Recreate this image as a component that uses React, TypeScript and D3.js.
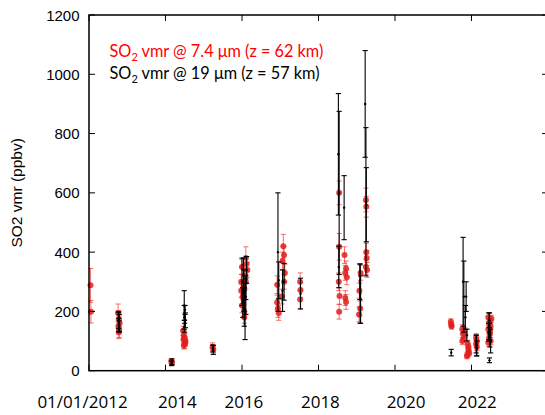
import React from "react";
import * as d3 from "d3";

// ---- data ----
const redDates = [
  2012.04, 2012.05,
  2012.76, 2012.78, 2012.8, 2012.77, 2012.79, 2012.78,
  2014.15, 2014.17,
  2014.46, 2014.48, 2014.5, 2014.52, 2014.5, 2014.48, 2014.52, 2014.47,
  2015.23, 2015.25,
  2015.98, 2016.0, 2016.04, 2016.1, 2016.12, 2016.08, 2016.02, 2016.0, 2016.06, 2016.1, 2016.14, 2016.04, 2015.98, 2016.06,
  2016.92, 2016.94, 2016.96, 2016.92, 2017.08, 2017.1, 2017.06, 2017.12, 2017.1, 2017.04,
  2017.52, 2017.52, 2017.53,
  2018.54, 2018.54, 2018.53, 2018.55, 2018.54,
  2018.68, 2018.72, 2018.7, 2018.74, 2018.7, 2018.72,
  2019.07, 2019.09, 2019.06, 2019.1,
  2019.24, 2019.25, 2019.25, 2019.26, 2019.24, 2019.27,
  2021.46, 2021.47, 2021.48,
  2021.76, 2021.78, 2021.8, 2021.76, 2021.82, 2021.9, 2021.92, 2021.9, 2021.94, 2021.92, 2021.88,
  2022.12, 2022.14, 2022.12, 2022.14,
  2022.44, 2022.48, 2022.46, 2022.5, 2022.44, 2022.48, 2022.46, 2022.5, 2022.44, 2022.48, 2022.52,
];
const redValues = [
  288, 199,
  195, 175, 160, 150, 140, 130,
  32, 28,
  135, 120, 110, 100, 90, 85, 95, 105,
  80, 72,
  300, 350, 280, 380, 360, 320, 250, 220, 200, 300, 340, 240, 270, 180,
  290, 210, 195, 230, 420, 390, 370, 330, 300, 250,
  300, 240, 272,
  600, 418, 300, 252, 199,
  390, 345, 330, 315, 245, 232,
  270, 210, 190, 330,
  576, 553, 400, 380, 350, 340,
  165, 155, 150,
  140, 125, 110, 100, 130, 90, 70, 55, 60, 80, 50,
  110, 100, 90, 80,
  180, 170, 160, 150, 140, 125, 110, 100, 95, 130, 175,
];
const redErrors = [
  57, 38,
  30, 28, 28, 25, 28, 22,
  8, 7,
  15, 15, 15, 14, 15, 12, 12, 12,
  14, 12,
  25, 25, 25, 38, 25, 25, 25, 25, 25, 25, 25, 20, 22, 20,
  30, 30, 25, 25, 40, 30, 30, 30, 25, 25,
  30, 30, 25,
  40, 45, 30, 28, 25,
  28, 25, 25, 25, 25, 25,
  25, 25, 25, 25,
  40, 35, 30, 25, 25, 25,
  10, 10, 10,
  15, 15, 15, 12, 15, 12, 12, 10, 10, 10, 10,
  15, 12, 12, 12,
  15, 15, 12, 15, 12, 12, 12, 12, 12, 12, 12,
];

const blackDates = [
  2012.78, 2012.79, 2012.77, 2012.78, 2012.79,
  2014.16, 2014.17,
  2014.49, 2014.5, 2014.52, 2014.5, 2014.51, 2014.49,
  2015.24, 2015.25,
  2016.0, 2016.05, 2016.1, 2016.02, 2016.08, 2016.04, 2016.1, 2016.06, 2016.12,
  2016.94, 2016.96, 2017.1, 2017.06,
  2017.53,
  2018.52, 2018.54, 2018.53, 2018.67,
  2019.08, 2019.1, 2019.09,
  2019.22, 2019.24, 2019.25,
  2021.47,
  2021.78, 2021.8, 2021.86, 2021.88, 2021.84,
  2022.13, 2022.14, 2022.12,
  2022.46, 2022.48, 2022.45, 2022.5, 2022.47, 2022.47,
];
const blackValues = [
  165, 160, 170, 155, 150,
  25, 30,
  220, 190, 170, 150, 205, 180,
  75, 70,
  300, 270, 250, 230, 200, 320, 280, 210, 340,
  400, 305, 300, 270,
  260,
  730, 600, 350, 550,
  300, 240, 260,
  900, 570, 560,
  61,
  300, 250, 250, 120, 180,
  85, 75, 90,
  150, 120, 130, 100, 170, 35,
];
const blackErrors = [
  33, 30, 28, 22, 18,
  8, 10,
  50, 30, 25, 20, 15, 40,
  12, 15,
  80, 70, 60, 50, 95, 60, 40, 60, 45,
  200, 62, 62, 70,
  52,
  205, 275, 70, 108,
  60, 80, 100,
  180, 250, 125,
  11,
  150, 120, 50, 20, 40,
  35, 25, 30,
  45, 40, 30, 40, 25, 8,
];

const yTicks = [0, 200, 400, 600, 800, 1000, 1200];
const xTickYears = [2012, 2014, 2016, 2018, 2020, 2022];
const xTickLabels = ["01/01/2012", "2014", "2016", "2018", "2020", "2022"];
const xLabelDates = [2011.83, 2014.31, 2016.05, 2018.05, 2020.29, 2022.15];

const W = 545;
const H = 415;

export default function App() {
  const x = d3.scaleLinear().domain([2012, 2024]).range([89, 548]);
  const y = d3.scaleLinear().domain([0, 1200]).range([370.7, 15]);
  const [x0, x1] = x.range();
  const [yb, yt] = y.range();
  const tick = 6;
  const cap = 2.6;

  const red = redDates.map((d, i) => ({ d, v: redValues[i], e: redErrors[i] }));
  const black = blackDates.map((d, i) => ({ d, v: blackValues[i], e: blackErrors[i] }));

  return (
    <svg
      width={W}
      height={H}
      style={{ position: "absolute", left: 0, top: 0, background: "#fff" }}
    >
      {/* red series */}
      <g>
        {red.map((p, i) => {
          const cx = x(p.d);
          return (
            <g key={"re" + i} stroke="rgba(235,40,35,0.65)" strokeWidth={1}>
              <line x1={cx} x2={cx} y1={y(p.v + p.e)} y2={y(p.v - p.e)} />
              <line x1={cx - cap} x2={cx + cap} y1={y(p.v + p.e)} y2={y(p.v + p.e)} />
              <line x1={cx - cap} x2={cx + cap} y1={y(p.v - p.e)} y2={y(p.v - p.e)} />
            </g>
          );
        })}
        {red.map((p, i) => (
          <circle key={"rc" + i} cx={x(p.d)} cy={y(p.v)} r={3} fill="rgba(228,30,28,0.85)" />
        ))}
      </g>
      {/* black series */}
      <g>
        {black.map((p, i) => {
          const cx = x(p.d);
          return (
            <g key={"be" + i} stroke="#000" strokeWidth={1.1}>
              <line x1={cx} x2={cx} y1={y(p.v + p.e)} y2={y(p.v - p.e)} />
              <line x1={cx - cap} x2={cx + cap} y1={y(p.v + p.e)} y2={y(p.v + p.e)} />
              <line x1={cx - cap} x2={cx + cap} y1={y(p.v - p.e)} y2={y(p.v - p.e)} />
            </g>
          );
        })}
        {black.map((p, i) => (
          <circle key={"bc" + i} cx={x(p.d)} cy={y(p.v)} r={1.2} fill="#000" />
        ))}
      </g>

      {/* frame */}
      <rect x={x0} y={yt} width={x1 - x0} height={yb - yt} fill="none" stroke="#000" strokeWidth={1.5} />
      {yTicks.map((t) => (
        <g key={"yt" + t} stroke="#000" strokeWidth={1}>
          <line x1={x0} x2={x0 + tick} y1={y(t)} y2={y(t)} />
          <line x1={x1 - tick} x2={x1} y1={y(t)} y2={y(t)} />
        </g>
      ))}
      {xTickYears.map((t) => (
        <g key={"xt" + t} stroke="#000" strokeWidth={1}>
          <line x1={x(t)} x2={x(t)} y1={yb} y2={yb - tick} />
          <line x1={x(t)} x2={x(t)} y1={yt} y2={yt + tick} />
        </g>
      ))}
      {yTicks.map((t) => (
        <text
          key={"yl" + t}
          x={79.5}
          y={y(t)}
          textAnchor="end"
          dominantBaseline="central"
          fontFamily="'Liberation Sans', Arial, sans-serif"
          fontSize={15}
          fill="#000"
        >
          {t}
        </text>
      ))}
      {xTickLabels.map((l, i) => (
        <text
          key={"xl" + i}
          x={x(xLabelDates[i])}
          y={407.5}
          textAnchor="middle"
          fontFamily="'Open Sans', sans-serif"
          fontSize={17}
          fill="#000"
        >
          {l}
        </text>
      ))}
      <text
        transform={`translate(16,${(yb + yt) / 2}) rotate(-90)`}
        textAnchor="middle"
        dominantBaseline="central"
        fontFamily="'Liberation Sans', Arial, sans-serif"
        fontSize={15.5}
        fill="#000"
      >
        SO2 vmr (ppbv)
      </text>

      {/* legend */}
      <text x={109.5} y={56.5} fontFamily="Lato, sans-serif" fontSize={16.3} fill="#ff0000">
        SO<tspan fontSize={11} dy={4}>2</tspan>
        <tspan dy={-4}> vmr @ 7.4 μm (z = 62 km)</tspan>
      </text>
      <text x={109.5} y={79} fontFamily="Lato, sans-serif" fontSize={16.3} fill="#000">
        SO<tspan fontSize={11} dy={4}>2</tspan>
        <tspan dy={-4}> vmr @ 19 μm (z = 57 km)</tspan>
      </text>
    </svg>
  );
}
